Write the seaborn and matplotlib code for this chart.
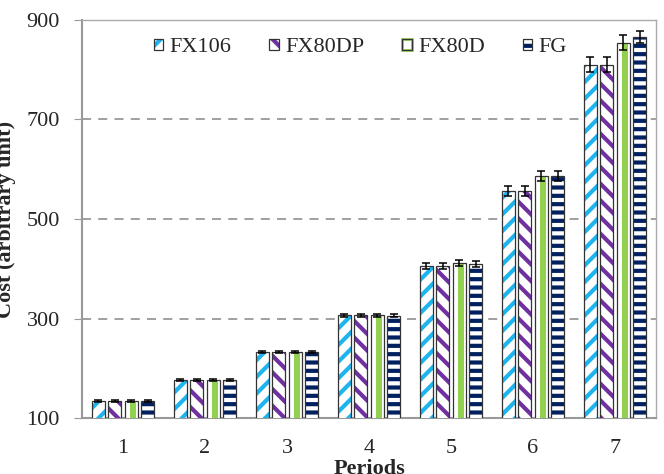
import numpy as np
import pandas as pd
import matplotlib
matplotlib.use('Agg')
import matplotlib.pyplot as plt
import seaborn as sns
from matplotlib.patches import Patch, Rectangle
from matplotlib.legend_handler import HandlerTuple

# dane
periods = ['1', '2', '3', '4', '5', '6', '7']
series = ['FX106', 'FX80DP', 'FX80D', 'FG']
fx106 = [134, 176, 233, 307, 406, 556, 810]
fx80dp = [134, 176, 233, 307, 406, 557, 810]
fx80d = [134, 176, 233, 307, 411, 586, 854]
fg = [134, 176, 233, 306, 410, 586, 866]
err_fx106 = [2, 2, 2, 3, 6, 10, 15]
err_fx80dp = [2, 2, 2, 3, 6, 10, 15]
err_fx80d = [2, 2, 2, 3, 6, 10, 15]
err_fg = [2, 2, 2, 3, 6, 10, 12]

values = [fx106, fx80dp, fx80d, fg]
errors = [err_fx106, err_fx80dp, err_fx80d, err_fg]
df = pd.DataFrame({
    'Period': np.tile(periods, len(series)),
    'Series': np.repeat(series, len(periods)),
    'Cost': np.concatenate(values),
})

hatch_colors = ['#1EB4EE', '#7030A0', '#92D050', '#002060']
hatches = ['//', '\\\\', None, '--']

sns.set_style('white')
plt.rcParams['font.family'] = ['Liberation Serif', 'DejaVu Serif']
plt.rcParams['hatch.linewidth'] = 3.0

fig, ax = plt.subplots(figsize=(6.64, 4.74), dpi=100)
fig.subplots_adjust(left=0.1235, right=0.988, bottom=0.118, top=0.958)

sns.barplot(data=df, x='Period', y='Cost', hue='Series', order=periods,
            hue_order=series, palette={s: 'white' for s in series},
            gap=0.2, errorbar=None, legend=False, ax=ax, zorder=3)

bar_conts = list(ax.containers)
for i, cont in enumerate(bar_conts):
    xs = []
    for bar in cont:
        x, w, h = bar.get_x(), bar.get_width(), bar.get_height()
        xs.append(x + w / 2)
        bar.set_facecolor('white')
        bar.set_linewidth(0)
        if hatches[i]:
            bar.set_hatch(hatches[i])
            bar.set_edgecolor(hatch_colors[i])
        else:
            ax.add_patch(Rectangle((x + 0.42 * w, 0), 0.42 * w, h,
                                   facecolor=hatch_colors[i], lw=0, zorder=3.5))
        ax.add_patch(Rectangle((x, 0), w, h, fill=False, edgecolor='#333333',
                               lw=0.9, zorder=4))
    ax.errorbar(xs, values[i], yerr=errors[i], fmt='none', ecolor='black',
                elinewidth=1.1, capsize=3, capthick=1.1, zorder=5)

ax.set_ylim(100, 900)
ax.set_xlim(-0.5, 6.5)
ax.set_yticks([100, 300, 500, 700, 900])
ax.set_xticks(range(7))
ax.set_xticks(np.arange(-0.5, 7, 1), minor=True)
ax.tick_params(axis='x', which='major', length=0, labelsize=16, pad=15)
ax.tick_params(axis='x', which='minor', length=5, direction='out', color='#999999')
ax.tick_params(axis='y', length=6, direction='out', color='#999999', labelsize=16,
               left=True, pad=10)
ax.yaxis.grid(True, color='#999999', linestyle=(0, (5, 4)), lw=1.3, zorder=0)
ax.set_axisbelow(True)

for s in ['left', 'bottom']:
    ax.spines[s].set_color('#999999')
    ax.spines[s].set_linewidth(1.5)
for s in ['top', 'right']:
    ax.spines[s].set_color('#aaaaaa')
    ax.spines[s].set_linewidth(1.0)

ax.set_xlabel('Periods', fontsize=16, fontweight='bold')
ax.xaxis.set_label_coords(0.5, -0.103)
ax.set_ylabel('Cost (arbitrary unit)', fontsize=16, fontweight='bold')
ax.yaxis.set_label_coords(-0.115, 0.5)

handles = []
for i in range(4):
    if hatches[i]:
        inner = Patch(facecolor='white', edgecolor=hatch_colors[i], hatch=hatches[i], lw=0)
    else:
        inner = Patch(facecolor='white', edgecolor=hatch_colors[i], lw=2)
    outline = Patch(fill=False, edgecolor='#333333', lw=0.9)
    handles.append((inner, outline))
ax.legend(handles, series, handler_map={tuple: HandlerTuple(ndivide=1, pad=0)},
          loc='center', bbox_to_anchor=(0.485, 0.93), ncol=4, frameon=False,
          fontsize=16, handlelength=0.42, handleheight=0.42, handletextpad=0.3,
          columnspacing=1.7, borderpad=0)

plt.savefig('out.png', dpi=100)
